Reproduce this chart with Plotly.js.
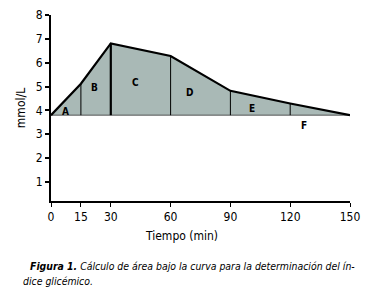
<!DOCTYPE html>
<html>
<head>
<meta charset="utf-8">
<script src="https://cdn.plot.ly/plotly-3.0.1.min.js"></script>
<style>html,body{margin:0;padding:0;background:#fff;}#chart{width:365px;height:293px;}</style>
</head>
<body>
<div id="chart"></div>
<script>
// Data
const times = [0, 15, 30, 60, 90, 120, 150];
const glucose = [3.8, 5.12, 6.81, 6.28, 4.82, 4.29, 3.8];
const baseline = 3.8;
const dividerTimes = [15, 30, 60, 90, 120];
const dividerValues = [5.12, 6.81, 6.28, 4.82, 4.29];
const segmentLabels = ['A', 'B', 'C', 'D', 'E', 'F'];
const labelX = [7.5, 21.6, 42.6, 69.7, 100.8, 127];
const labelY = [3.97, 4.98, 5.15, 4.77, 4.1, 3.38];
const xTicks = [0, 15, 30, 60, 90, 120, 150];
const yTicks = [1, 2, 3, 4, 5, 6, 7, 8];

const FONT = '"DejaVu Sans Condensed", "Liberation Sans Narrow", "Liberation Sans", Arial, sans-serif';

const traces = [];
traces.push({
  x: times.concat([times[times.length - 1], times[0]]),
  y: glucose.concat([baseline, baseline]),
  type: 'scatter', mode: 'lines', fill: 'toself',
  fillcolor: '#a9b9b6', line: {color: 'rgba(0,0,0,0)', width: 0},
  hoverinfo: 'skip', showlegend: false
});
traces.push({
  x: [times[0], times[times.length - 1]], y: [baseline, baseline],
  type: 'scatter', mode: 'lines', line: {color: '#555', width: 1},
  hoverinfo: 'skip', showlegend: false
});
dividerTimes.forEach((t, i) => {
  traces.push({
    x: [t, t], y: [baseline, dividerValues[i]],
    type: 'scatter', mode: 'lines',
    line: {color: '#000', width: t === 30 ? 2.2 : 1},
    hoverinfo: 'skip', showlegend: false
  });
});
traces.push({
  x: times, y: glucose, type: 'scatter', mode: 'lines',
  line: {color: '#000', width: 2.2}, hoverinfo: 'skip', showlegend: false
});

const annotations = segmentLabels.map((s, i) => ({
  x: labelX[i], y: labelY[i], xref: 'x', yref: 'y', text: '<b>' + s + '</b>',
  showarrow: false, font: {family: FONT, size: 10, color: '#000'}
}));
annotations.push({
  xref: 'paper', yref: 'paper', x: 0.438, y: -0.19, xanchor: 'center', yanchor: 'middle',
  text: 'Tiempo (min)', showarrow: false, font: {family: FONT, size: 12, color: '#000'}
});
annotations.push({
  xref: 'paper', yref: 'paper', x: -0.077, y: -0.35, xanchor: 'left', yanchor: 'middle',
  text: '<b><i>Figura 1.</i></b><i> Cálculo de área bajo la curva para la determinación del ín-</i>',
  showarrow: false, font: {family: FONT, size: 10.4, color: '#000'}
});
annotations.push({
  xref: 'paper', yref: 'paper', x: -0.1, y: -0.43, xanchor: 'left', yanchor: 'middle',
  text: '<i>dice glicémico.</i>',
  showarrow: false, font: {family: FONT, size: 10.4, color: '#000'}
});

const layout = {
  width: 365, height: 293,
  margin: {l: 51, r: 15, t: 15, b: 92},
  paper_bgcolor: '#fff', plot_bgcolor: '#fff',
  font: {family: FONT, size: 12, color: '#000'},
  showlegend: false,
  xaxis: {
    range: [0, 150], tickvals: xTicks, ticktext: xTicks.map(String),
    showgrid: false, zeroline: false, showline: true, linecolor: '#000', linewidth: 2,
    ticks: 'outside', ticklen: 4, tickwidth: 1, tickcolor: '#000',
    tickfont: {family: FONT, size: 12, color: '#000'},
    fixedrange: true
  },
  yaxis: {
    range: [0.2, 8], tickvals: yTicks, ticktext: yTicks.map(String),
    showgrid: false, zeroline: false, showline: true, linecolor: '#000', linewidth: 2,
    ticks: 'outside', ticklen: 4, tickwidth: 2, tickcolor: '#000',
    tickfont: {family: FONT, size: 12, color: '#000'},
    title: {text: 'mmol/L', font: {family: FONT, size: 12, color: '#000'}, standoff: 8},
    fixedrange: true
  },
  annotations: annotations
};

Plotly.newPlot('chart', traces, layout, {displayModeBar: false, staticPlot: true});
</script>
</body>
</html>
